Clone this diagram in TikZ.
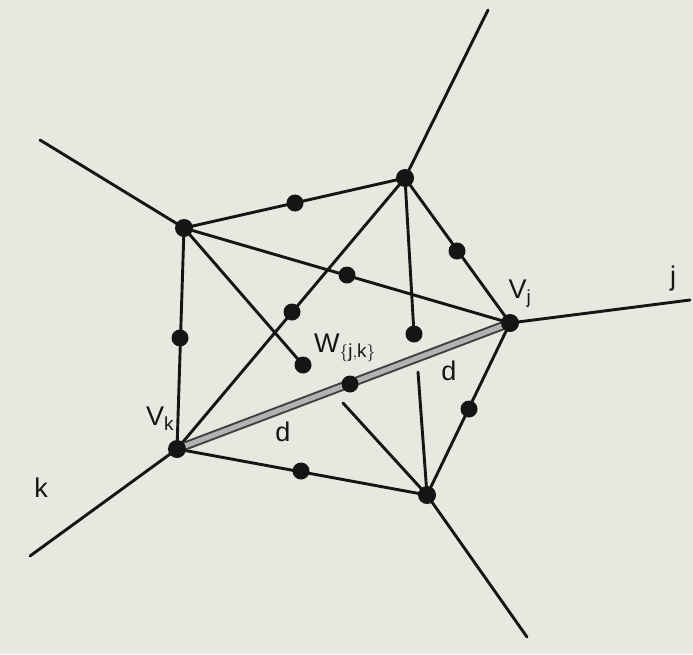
\documentclass[tikz,border=0pt]{standalone}
\usepackage{fontspec}
\setmainfont{Liberation Sans}
\definecolor{paperbg}{HTML}{E8E8E0}
\definecolor{cellink}{HTML}{151515}

\begin{document}
\begin{tikzpicture}[
  x=1pt,
  y=-1pt,
  line join=round,
  line cap=round,
  cell/.style={draw=cellink,line width=2.9pt},
  shared/.style={draw=black!75,line width=9pt},
  sharedfill/.style={draw=gray!60,line width=5pt},
  lbl/.style={font=\fontsize{27}{30}\selectfont,text=cellink,inner sep=0pt}
]
  \useasboundingbox[fill=paperbg] (0,0) rectangle (693,654);

  % Voronoi vertices and the two sites
  \coordinate (Vul) at (184,228);
  \coordinate (Vtop) at (405,178);
  \coordinate (Vj) at (510,323);
  \coordinate (Vk) at (177,449);
  \coordinate (Vbot) at (427,495);

  % open ends of the unbounded edges
  \coordinate (Rul) at (40,140);
  \coordinate (Rtop) at (488,10);
  \coordinate (Rj) at (690,300);
  \coordinate (Rk) at (30,556);
  \coordinate (Rbot) at (527,637);

  % edge midpoints and inner points
  \coordinate (Mtop) at (295,203);
  \coordinate (Mleft) at (180,338);
  \coordinate (Mcross) at (347,275);
  \coordinate (Mright) at (457,251);
  \coordinate (Mdiag) at (292,312);
  \coordinate (Mlow) at (301,471);
  \coordinate (Mlowr) at (469,409);
  \coordinate (Mjk) at (350,384);
  \coordinate (Pdrop) at (414,334);
  \coordinate (Wjk) at (303,365);
  \coordinate (Bl) at (343,403);
  \coordinate (Br) at (418,372);

  % unbounded edges
  \draw[cell] (Vul) -- (Rul);
  \draw[cell] (Vtop) -- (Rtop);
  \draw[cell] (Vj) -- (Rj);
  \draw[cell] (Vk) -- (Rk);
  \draw[cell] (Vbot) -- (Rbot);

  % cell outline and chords
  \draw[cell] (Vul) -- (Vtop) -- (Vj) -- (Vbot) -- (Vk) -- cycle;
  \draw[cell] (Vul) -- (Vj);
  \draw[cell] (Vk) -- (Vtop);
  \draw[cell] (Vtop) -- (Pdrop);
  \draw[cell] (Vul) -- (Wjk);
  \draw[cell] (Vbot) -- (Bl);
  \draw[cell] (Vbot) -- (Br);

  % shared edge between the two sites
  \draw[shared] (Vk) -- (Vj);
  \draw[sharedfill] (Vk) -- (Vj);

  \foreach \p in {Vul,Vtop,Vj,Vk,Vbot} {
    \fill[cellink] (\p) circle[radius=9];
  }
  \foreach \p in {Mtop,Mleft,Mcross,Mright,Mdiag,Mlow,Mlowr,Mjk,Pdrop,Wjk} {
    \fill[cellink] (\p) circle[radius=8.5];
  }

  \node[lbl] (labVk) at (160,419) {V$_{\mathrm{k}}$};
  \node[lbl] (labVj) at (520,294) {V$_{\mathrm{j}}$};
  \node[lbl] (labW) at (345,348) {W$_{\{\mathrm{j,k}\}}$};
  \node[lbl] (labd1) at (283,432) {d};
  \node[lbl] (labd2) at (449,371) {d};
  \node[lbl] (labj) at (673,279) {j};
  \node[lbl] (labk) at (41,488) {k};
\end{tikzpicture}
\end{document}
